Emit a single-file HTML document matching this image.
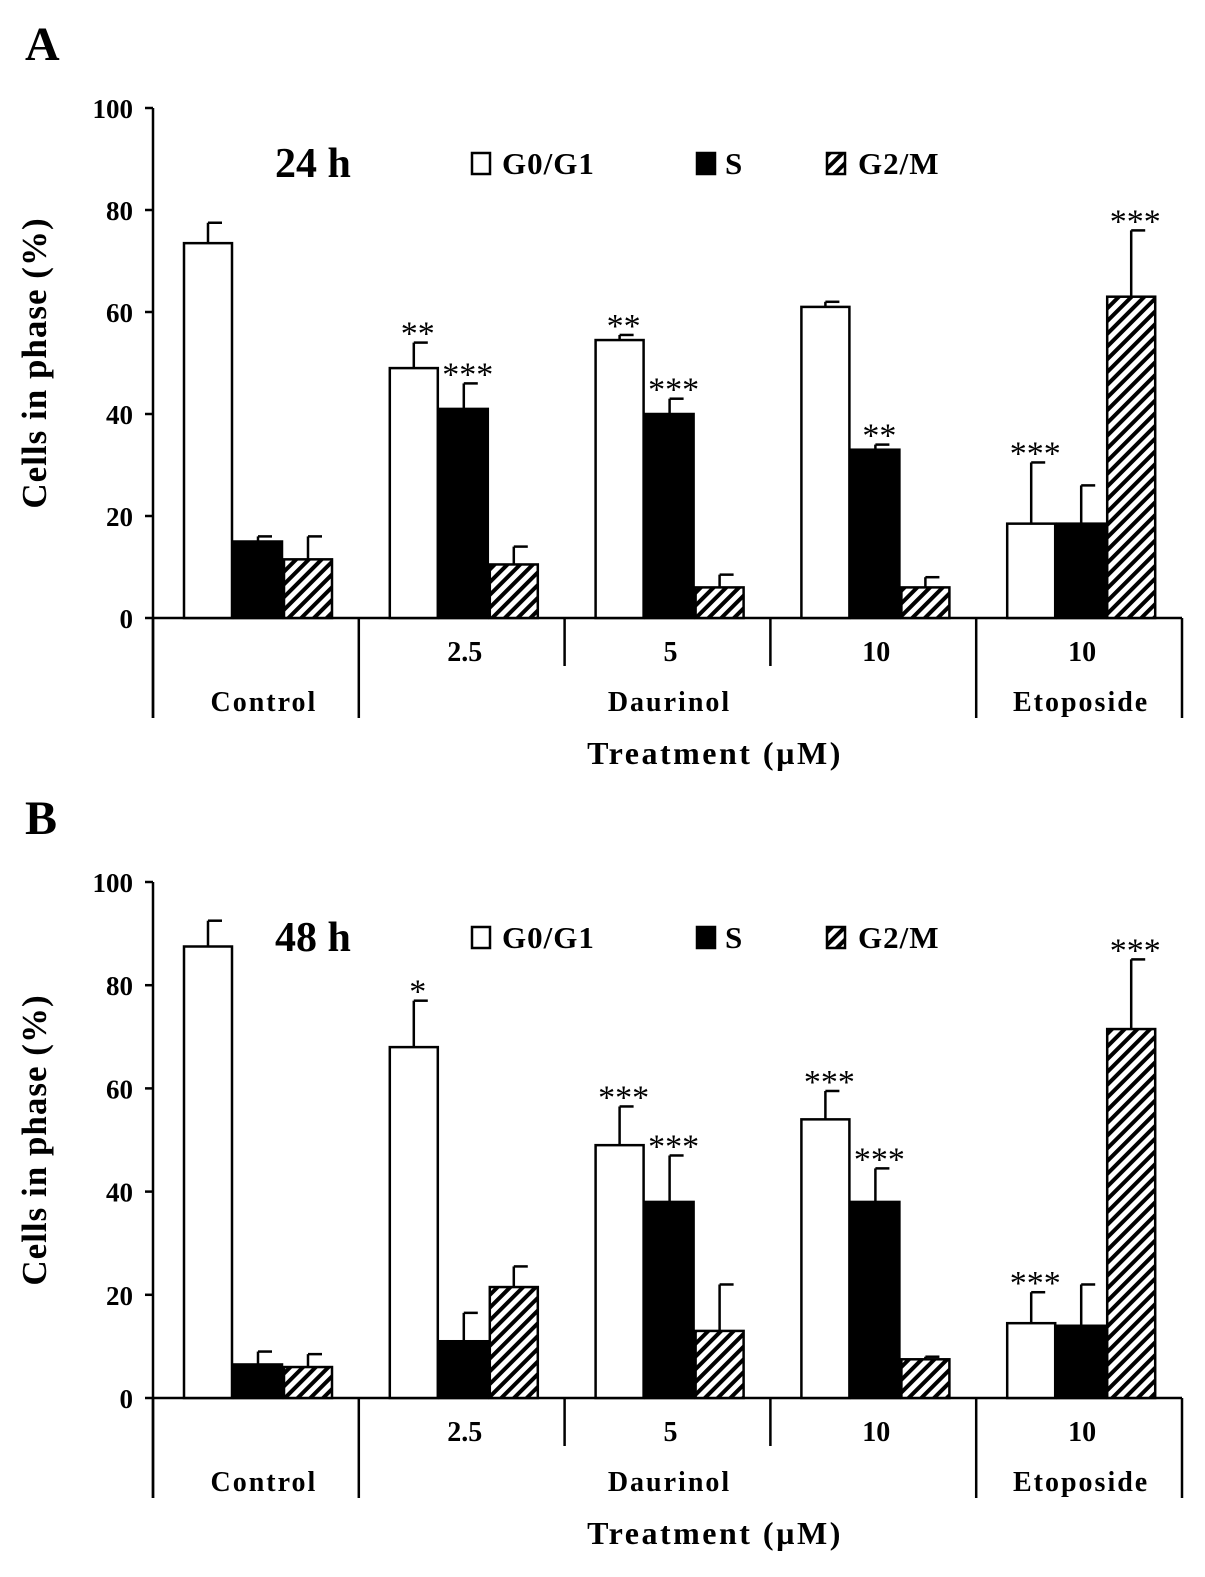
<!DOCTYPE html>
<html><head><meta charset="utf-8">
<style>
html,body{margin:0;padding:0;background:#fff;}
svg{display:block;font-family:"Liberation Serif",serif;font-weight:bold;}
</style></head>
<body>
<svg id="fig" width="1205" height="1577" viewBox="0 0 1205 1577" xmlns="http://www.w3.org/2000/svg">
<defs>
<pattern id="hatch" patternUnits="userSpaceOnUse" width="9" height="9" patternTransform="rotate(45)">
<rect width="9" height="9" fill="#fff"/>
<rect x="0" y="0" width="4" height="9" fill="#000"/>
</pattern>
</defs>
</svg>
<script>
const groups = ["Control","2.5","5","10","10"];
const phases = ["G0/G1","S","G2/M"];
const aG0 = [73.5,49,54.5,61,18.5];
const aS = [15,41,40,33,18.5];
const aG2 = [11.5,10.5,6,6,63];
const aG0err = [4,5,1,1,12];
const aSerr = [1,5,3,1,7.5];
const aG2err = [4.5,3.5,2.5,2,13];
const aSig = [["","",""],["**","***",""],["**","***",""],["","**",""],["***","","***"]];
const bG0 = [87.5,68,49,54,14.5];
const bS = [6.5,11,38,38,14];
const bG2 = [6,21.5,13,7.5,71.5];
const bG0err = [5,9,7.5,5.5,6];
const bSerr = [2.5,5.5,9,6.5,8];
const bG2err = [2.5,4,9,0.5,13.5];
const bSig = [["","",""],["*","",""],["***","***",""],["***","***",""],["***","","***"]];
const yTicks = [0,20,40,60,80,100];

const svg = document.getElementById('fig');
const NS = "http://www.w3.org/2000/svg";
function mk(tag, attrs, txt){
  const e = document.createElementNS(NS, tag);
  for (const k in attrs) e.setAttribute(k, attrs[k]);
  if (txt !== undefined) e.textContent = txt;
  svg.appendChild(e);
  return e;
}

function panel(letter, time, y100, y0, vals, errs, sigs){
  const x0 = 153, x1 = 1182, gw = (x1-x0)/5;
  const yS = v => y0 - (y0-y100)*v/100;
  const gx = i => x0 + gw*i;
  const fills = ["#fff","#000","url(#hatch)"];
  const names = ["g0g1","s","g2m"];

  let t = mk('text',{x:25,y:y100-48,'font-size':48},letter);
  
  

  let ax = mk('line',{x1:x0,y1:y100,x2:x0,y2:y0+100,stroke:'#000','stroke-width':2.5});
  
  
  let bx = mk('line',{x1:x0,y1:y0,x2:x1,y2:y0,stroke:'#000','stroke-width':2.5});
  
  

  yTicks.forEach(v=>{
    const y = yS(v);
    let l = mk('line',{x1:x0-8,y1:y,x2:x0,y2:y,stroke:'#000','stroke-width':2.5});
    
    
    let tl = mk('text',{x:133,y:y+10,'font-size':27,'text-anchor':'end'},String(v));
    
    
  });

  let yt = mk('text',{x:0,y:0,'font-size':35,'text-anchor':'middle','letter-spacing':1,transform:`translate(46,${(y100+y0)/2}) rotate(-90)`},'Cells in phase  (%)');
  
  

  for (let i=0;i<=5;i++){
    const long = (i===0||i===1||i===4||i===5);
    let d = mk('line',{x1:gx(i),y1:y0,x2:gx(i),y2:y0+(long?100:48),stroke:'#000','stroke-width':2.5});
    
    
  }
  for (let i=1;i<5;i++){
    let c = mk('text',{x:gx(i)+gw/2+3,y:y0+43,'font-size':28,'text-anchor':'middle'},groups[i]);
    
    
  }
  [["Control",gx(0)+gw/2+8],["Daurinol",gx(2.5)+2],["Etoposide",gx(4)+gw/2+2]].forEach(([s,x])=>{
    let c = mk('text',{x:x,y:y0+93,'font-size':28,'text-anchor':'middle','letter-spacing':2},s);
    
    
  });
  let xt = mk('text',{x:715,y:y0+146,'font-size':32,'text-anchor':'middle','letter-spacing':2.5},'Treatment (\u00b5M)');
  
  

  const bw = 50;
  for (let g=0; g<5; g++){
    for (let p=0; p<3; p++){
      const v = vals[p][g], e = errs[p][g];
      const bx0 = gx(g) + 30 + p*bw;
      const yt2 = yS(v);
      const cx = bx0 + bw/2;
      let el = mk('line',{x1:cx,y1:yt2,x2:cx,y2:yS(v+e),stroke:'#000','stroke-width':2.5});
      
      
      let ec = mk('line',{x1:cx,y1:yS(v+e),x2:cx+14,y2:yS(v+e),stroke:'#000','stroke-width':2.5});
      
      
      let r = mk('rect',{x:bx0+1,y:yt2,width:bw-2,height:y0-yt2,fill:fills[p],stroke:'#000','stroke-width':2.5});
      
      
      const s = sigs[g][p];
      if (s){
        let st = mk('text',{x:cx+4,y:yS(v+e)+2,'font-size':34,'font-weight':'normal','text-anchor':'middle'},s);
        
        
      }
    }
  }

  const ly = yS(100)+55;
  let tt = mk('text',{x:275,y:ly+14,'font-size':42},time);
  
  
  const lx = [472,697,827], tx = [502,725,858];
  for (let p=0;p<3;p++){
    let lb = mk('rect',{x:lx[p],y:ly-10,width:18,height:21,fill:fills[p],stroke:'#000','stroke-width':2.5});
    
    
    let lt = mk('text',{x:tx[p],y:ly+11,'font-size':31,'letter-spacing':1},phases[p]);
    
    
  }
}

panel('A','24 h',108,618,[aG0,aS,aG2],[aG0err,aSerr,aG2err],aSig);
panel('B','48 h',882,1398,[bG0,bS,bG2],[bG0err,bSerr,bG2err],bSig);
</script>
</body></html>
